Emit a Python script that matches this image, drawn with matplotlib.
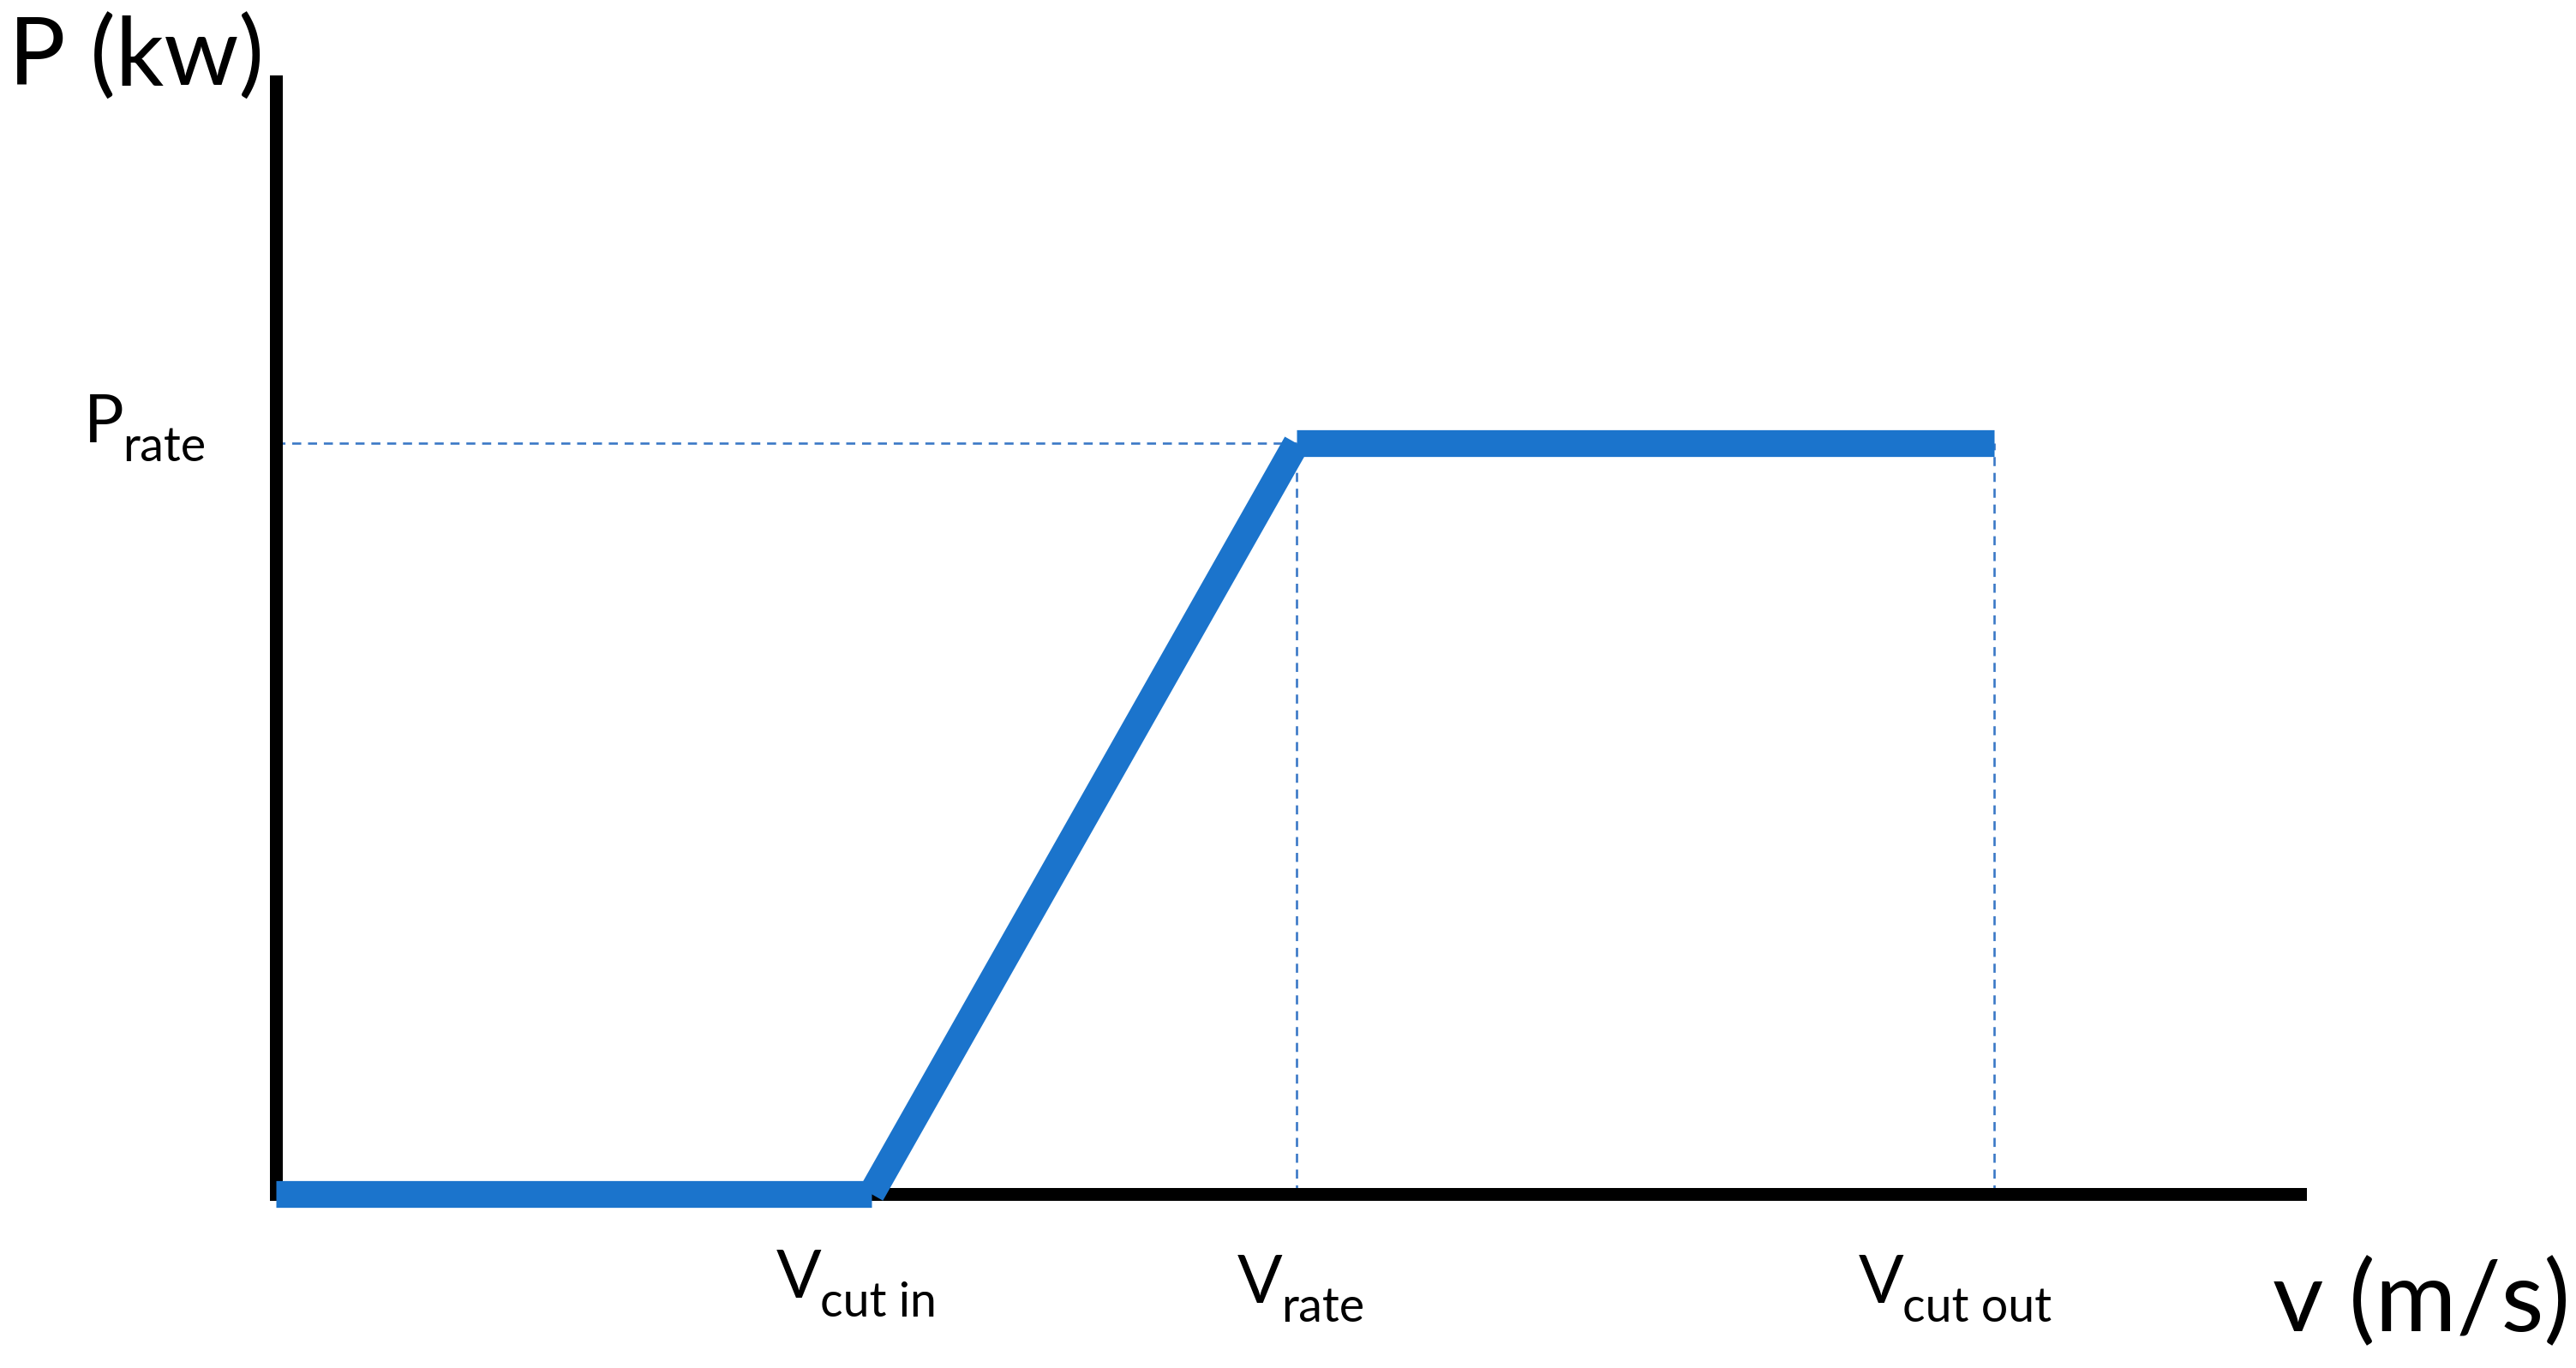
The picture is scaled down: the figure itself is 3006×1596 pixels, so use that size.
import matplotlib
matplotlib.use("Agg")
import matplotlib.pyplot as plt

# ---- data (wind turbine power curve, schematic) ----
v_cut_in = 3.5      # m/s
v_rate = 6.0        # m/s
v_cut_out = 10.1    # m/s
P_rate = 1.0        # kW (normalised)
v_curve = [0.0, v_cut_in, v_rate, v_cut_out]
p_curve = [0.0, 0.0, P_rate, P_rate]
x_max = 11.9
y_max = 1.482

labels_x = ["V", "V", "V"]
labels_x_sub = ["cut in", "rate", "cut out"]
label_y_main, label_y_sub = "P", "rate"
x_axis_title = "v (m/s)"
y_axis_title = "P (kw)"

# ---- figure ----
W, H = 3006, 1596
DPI = 100
fig = plt.figure(figsize=(W / DPI, H / DPI), dpi=DPI)
fig.patch.set_facecolor("white")
plt.rcParams["font.family"] = ["Lato", "DejaVu Sans"]

def fx(px):
    return px / W

def fy(py):
    return 1 - py / H

ax = fig.add_axes([fx(322), fy(1393), (2684 - 322) / W, (1393 - 95) / H])
ax.set_xlim(0, x_max)
ax.set_ylim(0, y_max)
ax.set_facecolor("none")
for s in ["top", "right"]:
    ax.spines[s].set_visible(False)
for s in ["left", "bottom"]:
    ax.spines[s].set_linewidth(10.8)
    ax.spines[s].set_color("black")
    ax.spines[s].set_capstyle("projecting")
ax.set_xticks([])
ax.set_yticks([])

blue = "#1b74cc"
dash_blue = "#3a78c6"

# dashed guide lines
dash_kw = dict(color=dash_blue, lw=1.9, linestyle=(0, (4, 3)), zorder=2, clip_on=False)
ax.plot([0, v_rate], [P_rate, P_rate], **dash_kw)
ax.plot([v_rate, v_rate], [0, P_rate], **dash_kw)
ax.plot([v_cut_out, v_cut_out], [0, P_rate], **dash_kw)

# power curve: separate segments with butt caps
for i in range(len(v_curve) - 1):
    ax.plot(v_curve[i:i + 2], p_curve[i:i + 2], color=blue, lw=22.5,
            solid_capstyle="butt", zorder=3, clip_on=False)

# ---- texts ----
mid = 56
sub = 40

fig.text(fx(10), fy(100), y_axis_title, fontsize=80, ha="left", va="baseline")
fig.text(fx(2652), fy(1553), x_axis_title, fontsize=83, ha="left", va="baseline")

def sub_label(xpx, ypx, main, subtxt, dy_px):
    t = fig.text(fx(xpx), fy(ypx), main, fontsize=mid, ha="left", va="baseline")
    fig.canvas.draw()
    bb = t.get_window_extent()
    fig.text(bb.x1 / W - 0.0005, fy(ypx + dy_px), subtxt, fontsize=sub,
             ha="left", va="baseline")

sub_label(98, 516, label_y_main, label_y_sub, 22)
pos = [(906, 1514), (1444, 1520), (2169, 1520)]
for (xp, yp), m, s in zip(pos, labels_x, labels_x_sub):
    sub_label(xp, yp, m, s, 22)

fig.savefig("out.png", dpi=DPI, facecolor="white")
